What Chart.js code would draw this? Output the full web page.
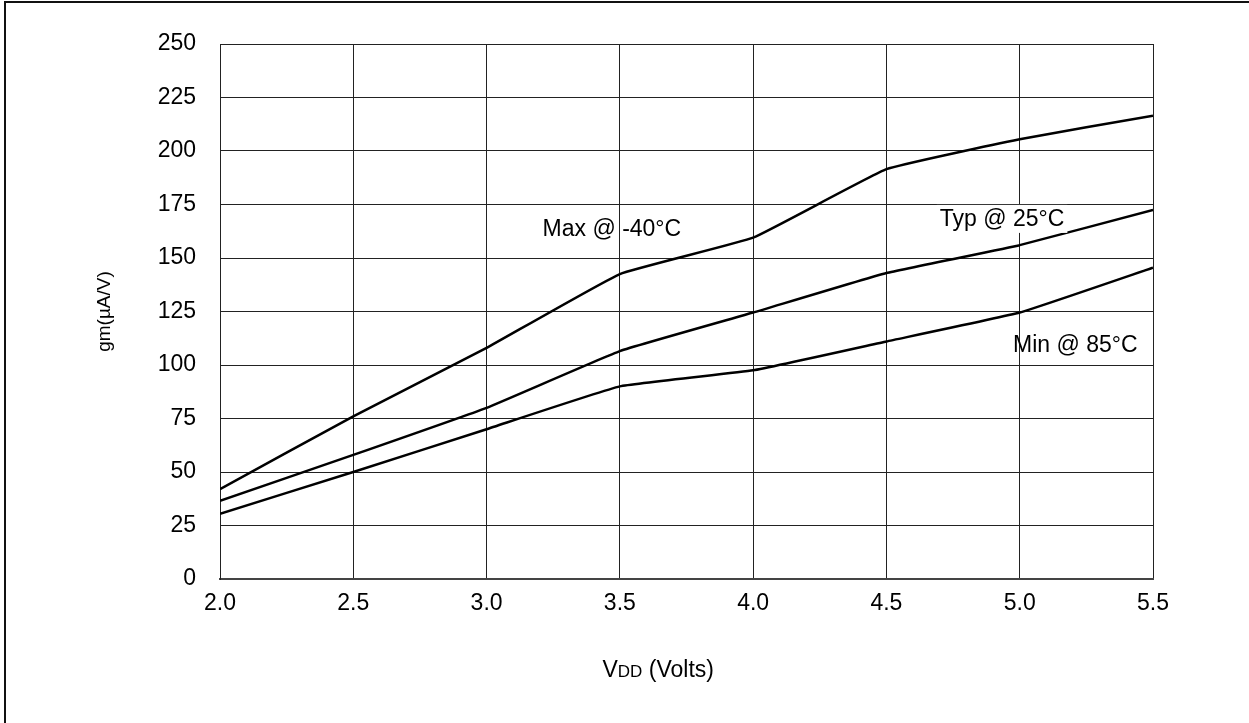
<!DOCTYPE html>
<html>
<head>
<meta charset="utf-8">
<script src="https://cdn.jsdelivr.net/npm/chart.js@4"></script>
<style>
  html, body { margin: 0; padding: 0; background: #fff; }
  #wrap { position: relative; width: 1249px; height: 723px; overflow: hidden; }
  #frame { position: absolute; left: 4px; top: 1px; right: -10px; bottom: -10px;
           border-left: 2px solid #111; border-top: 2px solid #111; pointer-events: none; }
  canvas { position: absolute; left: 0; top: 0; }
</style>
</head>
<body>
<div id="wrap">
  <canvas id="chart" width="1249" height="723"></canvas>
  <div id="frame"></div>
</div>
<script>
// Values
const vdd = [2.0, 2.5, 3.0, 3.5, 4.0, 4.5, 5.0, 5.5];
const gmMax = [42, 76, 108, 142.5, 159.5, 191.5, 205.5, 216.5];
const gmTyp = [36.5, 58, 80, 106.5, 124.5, 143, 156, 172.5];
const gmMin = [30.5, 50, 70, 90, 97.5, 111, 124.5, 145.5];
const curveNames = ["Max @ -40°C", "Typ @ 25°C", "Min @ 85°C"];
const yTitle = "gm(µA/V)";

const FONT = "'Liberation Sans', Arial, sans-serif";

function toPoints(ys) {
    return vdd.map((v, i) => ({ x: v, y: ys[i] }));
}

function lineSet(label, ys) {
    return {
        label: label,
        data: toPoints(ys),
        borderColor: '#000',
        borderWidth: 2.5,
        pointRadius: 0,
        tension: 0.1,
        fill: false
    };
}

// curve labels + x-axis title (V with small "DD")
const labelPlugin = {
    id: 'curveLabels',
    afterDatasetsDraw(chart) {
        const { ctx, scales: { x, y }, chartArea } = chart;
        // where each label sits, in data units (x volts, baseline gm)
        const spots = [
            { x: 3.21, y: 160.5, bg: false },
            { x: 4.70, y: 165, bg: true },
            { x: 4.975, y: 106, bg: false }
        ];
        ctx.save();
        ctx.font = '23px ' + FONT;
        ctx.textBaseline = 'alphabetic';
        ctx.textAlign = 'left';
        curveNames.forEach((name, i) => {
            const px = x.getPixelForValue(spots[i].x);
            const py = y.getPixelForValue(spots[i].y);
            if (spots[i].bg) {
                const w = ctx.measureText(name).width;
                ctx.fillStyle = '#fff';
                ctx.fillRect(px - 3, py - 21, w + 6, 28);
            }
            ctx.fillStyle = '#000';
            ctx.fillText(name, px, py);
        });

        // x axis title
        const parts = [['V', 23], ['DD', 17], [' (Volts)', 23]];
        let tx = (chartArea.left + chartArea.right) / 2 - 84;
        const ty = chartArea.bottom + 98;
        parts.forEach(([t, size]) => {
            ctx.font = size + 'px ' + FONT;
            ctx.fillText(t, tx, ty);
            tx += ctx.measureText(t).width;
        });
        ctx.restore();
    }
};

const ctx = document.getElementById('chart').getContext('2d');
const chart = new Chart(ctx, {
    type: 'line',
    data: {
        datasets: [
            lineSet(curveNames[0], gmMax),
            lineSet(curveNames[1], gmTyp),
            lineSet(curveNames[2], gmMin)
        ]
    },
    options: {
        responsive: false,
        animation: false,
        devicePixelRatio: 1,
        layout: { padding: { left: 0, top: 44, right: 96, bottom: 0 } },
        plugins: {
            legend: { display: false },
            tooltip: { enabled: false }
        },
        scales: {
            x: {
                type: 'linear',
                min: 2.0,
                max: 5.5,
                afterFit: s => { s.height = 144; },
                ticks: {
                    stepSize: 0.5,
                    padding: 11,
                    color: '#000',
                    font: { family: FONT, size: 23 },
                    callback: v => v.toFixed(1)
                },
                grid: { color: '#222', lineWidth: 1, drawTicks: false },
                border: { color: '#444', width: 2 }
            },
            y: {
                min: 0,
                max: 250,
                afterFit: s => { s.width = 220; },
                ticks: {
                    stepSize: 25,
                    padding: 24,
                    color: '#000',
                    font: { family: FONT, size: 23 }
                },
                grid: { color: '#222', lineWidth: 1, drawTicks: false },
                border: { color: '#222', width: 1 },
                title: {
                    display: true,
                    text: yTitle,
                    color: '#000',
                    font: { family: FONT, size: 19 },
                    padding: { top: 93, bottom: 0 }
                }
            }
        }
    },
    plugins: [labelPlugin]
});
</script>
</body>
</html>
